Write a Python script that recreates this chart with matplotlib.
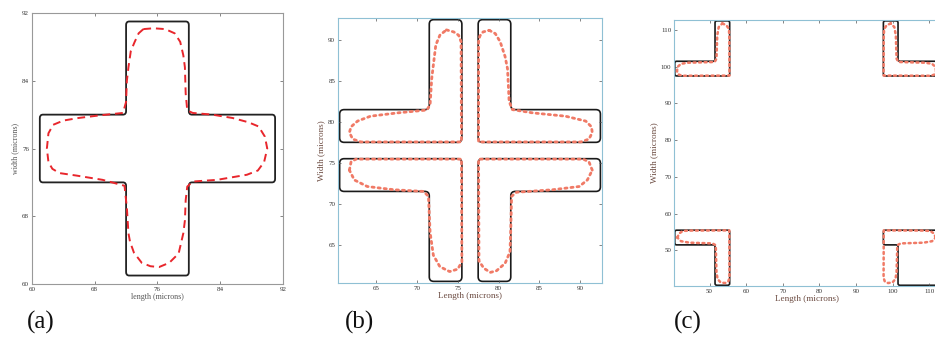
#
# Three-panel layout: designed mask outline (black) vs. simulated print contour (red)
#
import numpy as np
import matplotlib.pyplot as plt
from matplotlib.path import Path
from matplotlib.patches import PathPatch

plt.rcParams['font.family'] = ['Liberation Serif', 'DejaVu Serif']

# ---- panel (a): single cross ----
a_ticks = [60, 68, 76, 84, 92]
a_mask_x = [72, 80, 80, 91, 91, 80, 80, 72, 72, 61, 61, 72]
a_mask_y = [91, 91, 80, 80, 72, 72, 61, 61, 72, 72, 80, 80]
a_print_x = [74.2, 75.5, 77.0, 78.2, 78.9, 79.3, 79.5, 79.6, 79.8, 80.5, 83.0, 85.6, 87.6, 88.9,
             89.7, 90.0, 89.6, 88.8, 87.4, 85.5, 83.6, 80.5, 79.8, 79.6, 79.5, 79.3, 78.7, 77.5,
             76.2, 75.1, 74.0, 73.0, 72.5, 72.3, 72.1, 71.8, 69.0, 65.7, 63.5, 62.6, 62.1, 61.9,
             62.1, 62.7, 64.0, 65.9, 68.5, 71.6, 72.0, 72.1, 72.3, 72.6, 73.1, 73.6, 74.2]
a_print_y = [90.1, 90.2, 90.1, 89.6, 88.6, 87.0, 85.6, 82.5, 80.5, 80.2, 80.0, 79.6, 79.1, 78.6,
             77.4, 76.0, 74.4, 73.4, 72.9, 72.6, 72.3, 72.1, 71.5, 69.9, 67.5, 66.0, 63.6, 62.5,
             62.0, 62.1, 62.5, 63.7, 65.0, 66.0, 69.0, 71.6, 72.3, 72.8, 73.1, 73.6, 74.4, 76.0,
             77.8, 78.8, 79.3, 79.6, 79.9, 80.2, 81.5, 84.0, 85.6, 87.5, 88.6, 89.6, 90.1]

# ---- panel (b): four L shapes close together ----
b_ticks = [65, 70, 75, 80, 85, 90]
b_mask = {
    'tl': ([60.5, 75.5, 75.5, 71.5, 71.5, 60.5], [77.5, 77.5, 92.5, 92.5, 81.5, 81.5]),
    'tr': ([77.5, 92.5, 92.5, 81.5, 81.5, 77.5], [77.5, 77.5, 81.5, 81.5, 92.5, 92.5]),
    'bl': ([60.5, 75.5, 75.5, 71.5, 71.5, 60.5], [75.5, 75.5, 60.5, 60.5, 71.5, 71.5]),
    'br': ([77.5, 92.5, 92.5, 81.5, 81.5, 77.5], [75.5, 75.5, 71.5, 71.5, 60.5, 60.5]),
}
b_print = {
    'tl': ([73.6, 74.5, 75.1, 75.4, 75.45, 63.1, 62.1, 61.7, 61.9, 62.7, 64.3, 67.6, 71.2, 71.6,
            71.8, 72.3, 72.8, 73.6],
           [91.25, 91.0, 90.6, 89.8, 77.55, 77.55, 77.9, 78.7, 79.4, 80.1, 80.7, 81.1, 81.45, 82.1,
            85.3, 89.4, 90.6, 91.25]),
    'tr': ([78.85, 79.6, 80.2, 80.8, 81.1, 81.3, 81.7, 84.2, 88.2, 90.7, 91.4, 91.5, 91.1, 90.1,
            77.55, 77.55, 77.7, 78.1, 78.85],
           [91.2, 90.8, 89.8, 88.0, 86.5, 82.5, 81.5, 81.1, 80.7, 80.1, 79.4, 78.7, 77.9, 77.55,
            77.55, 89.8, 90.5, 91.0, 91.2]),
    'bl': ([61.7, 61.9, 62.5, 75.45, 75.5, 75.0, 74.0, 72.8, 72.0, 71.6, 71.4, 70.8, 67.2, 63.9,
            62.3, 61.7],
           [74.1, 75.1, 75.45, 75.45, 62.9, 62.0, 61.7, 62.3, 63.7, 66.5, 70.9, 71.5, 71.7, 72.1,
            72.9, 74.1]),
    'br': ([91.5, 91.1, 90.4, 77.55, 77.6, 78.2, 79.0, 79.75, 80.8, 81.4, 81.5, 81.6, 82.2, 86.6,
            89.9, 90.9, 91.5],
           [74.1, 75.1, 75.45, 75.45, 63.0, 62.1, 61.6, 61.8, 62.7, 64.1, 66.9, 70.9, 71.4, 71.7,
            72.1, 72.9, 74.1]),
}

# ---- panel (c): four L shapes far apart ----
c_ticks = [50, 60, 70, 80, 90, 100, 110]
c_mask = {
    'tl': ([40.5, 55.5, 55.5, 51.5, 51.5, 40.5], [97.5, 97.5, 112.5, 112.5, 101.5, 101.5]),
    'tr': ([97.5, 112.5, 112.5, 101.5, 101.5, 97.5], [97.5, 97.5, 101.5, 101.5, 112.5, 112.5]),
    'bl': ([40.5, 55.5, 55.5, 51.5, 51.5, 40.5], [55.5, 55.5, 40.5, 40.5, 51.5, 51.5]),
    'br': ([97.5, 112.5, 112.5, 101.5, 101.5, 97.5], [55.5, 55.5, 40.5, 40.5, 51.5, 51.5]),
}
c_print = {
    'tl': ([53.5, 54.6, 55.3, 55.4, 55.45, 42.5, 41.5, 41.1, 41.3, 42.2, 44.0, 51.4, 51.9, 52.1,
            52.5, 53.5],
           [111.8, 111.3, 110.3, 108.0, 97.6, 97.55, 97.9, 98.8, 100.0, 100.8, 101.1, 101.3, 102.2,
            108.5, 110.8, 111.8]),
    'tr': ([99.5, 98.4, 97.7, 97.6, 97.55, 110.5, 111.5, 111.9, 111.7, 110.8, 109.0, 101.6, 101.1,
            100.9, 100.5, 99.5],
           [111.8, 111.3, 110.3, 108.0, 97.6, 97.55, 97.9, 98.8, 100.0, 100.8, 101.1, 101.3, 102.2,
            108.5, 110.8, 111.8]),
    'bl': ([41.2, 41.7, 42.7, 45.0, 55.4, 55.45, 55.1, 54.2, 53.0, 52.2, 51.9, 51.7, 50.8, 44.5,
            42.2, 41.2],
           [53.5, 54.6, 55.3, 55.4, 55.45, 42.5, 41.5, 41.1, 41.3, 42.2, 44.0, 51.4, 51.9, 52.1,
            52.5, 53.5]),
    'br': ([111.8, 111.3, 110.3, 108.0, 97.6, 97.55, 97.9, 98.8, 100.0, 100.8, 101.1, 101.3, 102.2,
            108.5, 110.8, 111.8],
           [53.5, 54.6, 55.3, 55.4, 55.45, 42.5, 41.5, 41.1, 41.3, 42.2, 44.0, 51.4, 51.9, 52.1,
            52.5, 53.5]),
}


def rounded_outline(ax, xs, ys, r, **kw):
    '''Closed polygon with slightly rounded corners'''
    pts = np.column_stack([xs, ys]).astype(float)
    n = len(pts)
    verts, codes = [], []
    for i in range(n):
        p, a, b = pts[i], pts[i - 1], pts[(i + 1) % n]
        d1 = (a - p) / np.linalg.norm(a - p)
        d2 = (b - p) / np.linalg.norm(b - p)
        verts += [p + d1 * r, p, p + d2 * r]
        codes += [Path.MOVETO if i == 0 else Path.LINETO, Path.CURVE3, Path.CURVE3]
    verts.append(verts[0])
    codes.append(Path.CLOSEPOLY)
    ax.add_patch(PathPatch(Path(verts, codes), fill=False, **kw))


def style_axes(ax, ticks, lim, spine_col, lab_col, xlabel, ylabel, lab_size):
    ax.set_xlim(lim)
    ax.set_ylim(lim)
    ax.set_xticks(ticks)
    ax.set_yticks(ticks)
    ax.tick_params(direction='in', length=2, width=0.5, labelsize=5, pad=2,
                   top=True, right=True, colors='#555555', labelcolor='#333333')
    for s in ax.spines.values():
        s.set_color(spine_col)
        s.set_linewidth(0.8)
    ax.set_xlabel(xlabel, fontsize=lab_size, color=lab_col, labelpad=1)
    ax.set_ylabel(ylabel, fontsize=lab_size, color=lab_col, labelpad=2)


fig = plt.figure(figsize=(9.35, 3.4), dpi=100)

# (a)
ax1 = fig.add_axes([0.0342, 0.1647, 0.2684, 0.797])
rounded_outline(ax1, a_mask_x, a_mask_y, 0.4, edgecolor='#222222', lw=1.3)
ax1.plot(a_print_x, a_print_y, color='#e8262c', lw=1.4, dashes=(4, 2.5))
style_axes(ax1, a_ticks, (60, 92), '#999999', '#555555',
           'length (microns)', 'width (microns)', 5.8)

# (b)
ax2 = fig.add_axes([0.3615, 0.1676, 0.2824, 0.7794])
for k in ['tl', 'tr', 'bl', 'br']:
    rounded_outline(ax2, b_mask[k][0], b_mask[k][1], 0.55, edgecolor='#1a1a1a', lw=1.2)
    ax2.plot(b_print[k][0], b_print[k][1], color='#f07a66', lw=2.0,
             linestyle=(0, (0.8, 1.4)), dash_capstyle='round')
style_axes(ax2, b_ticks, (60.3, 92.7), '#8fc0d4', '#6b4a40',
           'Length (microns)', 'Width (microns)', 6.6)

# (c) -- right part runs off the figure edge
ax3 = fig.add_axes([0.7209, 0.1588, 0.2834, 0.782])
for k in ['tl', 'tr', 'bl', 'br']:
    rounded_outline(ax3, c_mask[k][0], c_mask[k][1], 0.5, edgecolor='#1a1a1a', lw=1.2)
    ax3.plot(c_print[k][0], c_print[k][1], color='#f07a66', lw=1.8,
             linestyle=(0, (0.8, 1.4)), dash_capstyle='round')
style_axes(ax3, c_ticks, (40.3, 112.7), '#8fc0d4', '#6b4a40',
           'Length (microns)', 'Width (microns)', 6.6)

# panel letters
for x, lab in [(0.029, '(a)'), (0.369, '(b)'), (0.721, '(c)')]:
    fig.text(x, 0.052, lab, fontsize=18, color='#111111', ha='left', va='center')

fig.savefig('out.png', dpi=100)
plt.close()
